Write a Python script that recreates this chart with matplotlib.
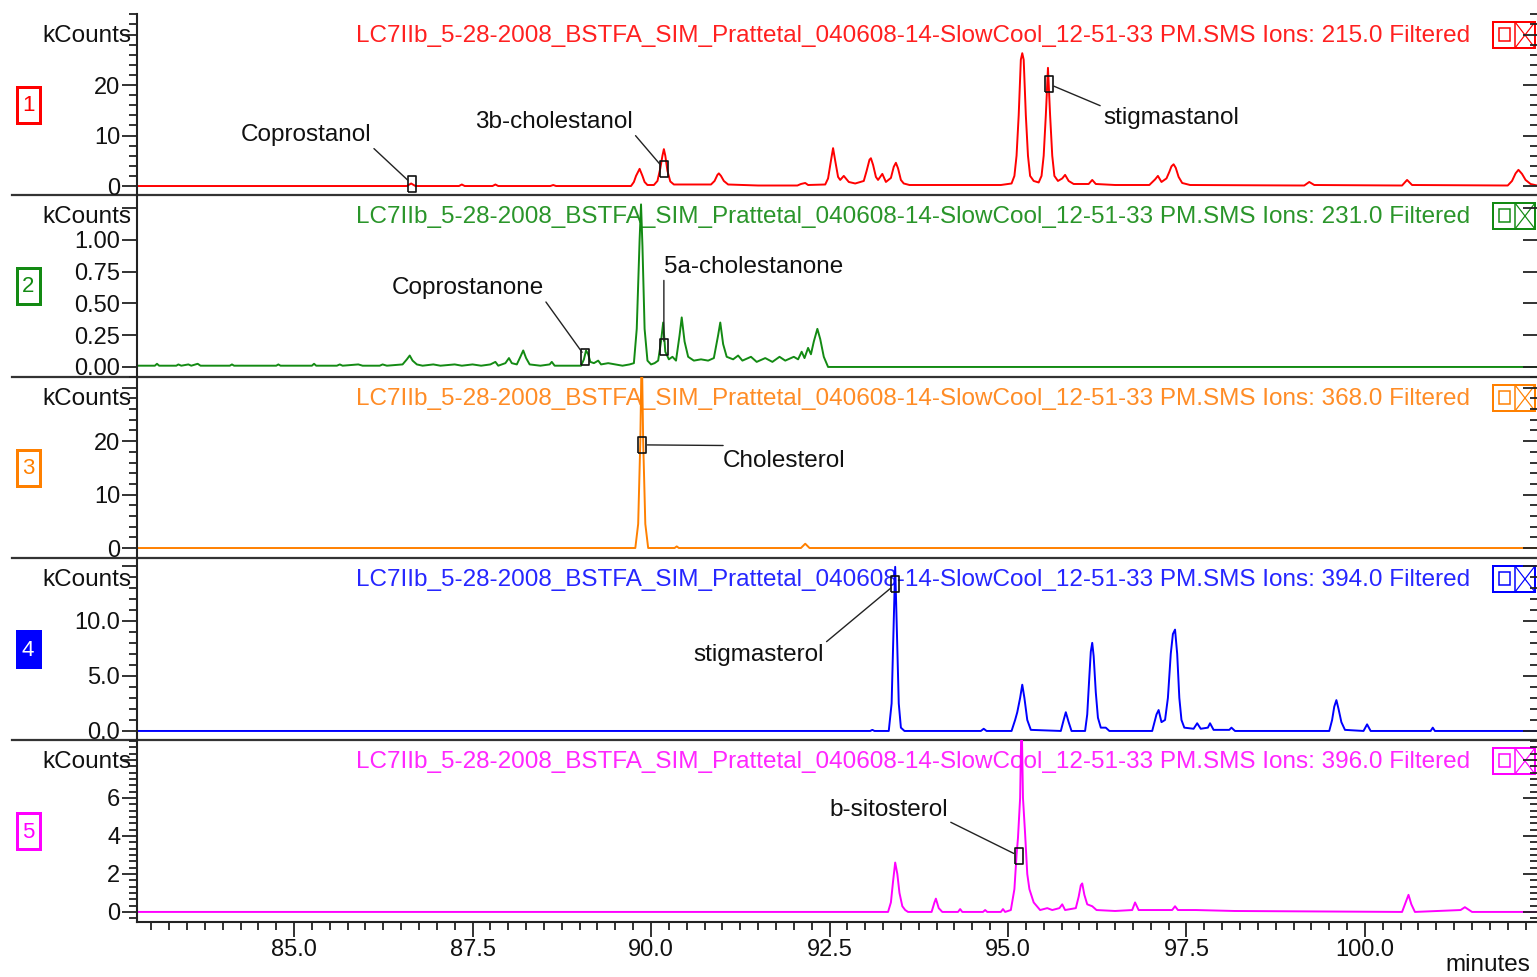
import numpy as np
import matplotlib
matplotlib.use("Agg")
import matplotlib.pyplot as plt
from matplotlib.patches import Rectangle
from matplotlib.ticker import MultipleLocator, NullLocator

plt.rcParams['font.family'] = ['Liberation Sans', 'DejaVu Sans']

W, H, DPI = 1537, 977, 100

RUN_NAME = "LC7IIb_5-28-2008_BSTFA_SIM_Prattetal_040608-14-SlowCool_12-51-33 PM.SMS"
ION_MASSES = ["215.0", "231.0", "368.0", "394.0", "396.0"]
TRACE_COLORS = ["#ff0000", "#138a13", "#ff8000", "#0000ff", "#ff00ff"]
TITLE_COLORS = ["#ff2020", "#2a952a", "#ff8c26", "#2626ff", "#ff26ff"]

T_START, T_END = 82.80, 102.41
X_TICKS = [85.0, 87.5, 90.0, 92.5, 95.0, 97.5, 100.0]
X_TICK_LABELS = ["85.0", "87.5", "90.0", "92.5", "95.0", "97.5", "100.0"]

# chromatogram vertices: retention time (min), intensity (kCounts)
trace_215 = np.array([
    [82.80, 0.0], [86.58, 0.0], [86.64, 0.5], [86.70, 0.0],
    [87.31, 0.0], [87.35, 0.3], [87.39, 0.0],
    [87.78, 0.0], [87.82, 0.3], [87.86, 0.0],
    [88.59, 0.0], [88.63, 0.2], [88.67, 0.0],
    [89.72, 0.0], [89.76, 0.8], [89.79, 2.0], [89.84, 3.4], [89.88, 2.0], [89.91, 0.8], [89.95, 0.2],
    [90.04, 0.2], [90.09, 1.0], [90.13, 3.5], [90.16, 6.0], [90.18, 7.3], [90.20, 6.0], [90.23, 3.0],
    [90.27, 0.9], [90.32, 0.3],
    [90.55, 0.3], [90.84, 0.3], [90.89, 1.0], [90.93, 2.2], [90.95, 2.5], [90.98, 2.0], [91.02, 1.0], [91.08, 0.3],
    [91.50, 0.1], [92.05, 0.1], [92.10, 0.4], [92.16, 0.6], [92.20, 0.2],
    [92.44, 0.3], [92.48, 1.5], [92.52, 5.0], [92.55, 7.5], [92.58, 5.0], [92.62, 1.8], [92.65, 1.2],
    [92.70, 2.0], [92.77, 0.8], [92.86, 0.5],
    [92.98, 1.0], [93.02, 3.0], [93.06, 5.2], [93.08, 5.5], [93.11, 4.2], [93.15, 1.8], [93.18, 1.2],
    [93.24, 2.4], [93.29, 0.8], [93.36, 1.6], [93.40, 3.8], [93.43, 4.6], [93.46, 3.5], [93.50, 1.2],
    [93.54, 0.5], [93.62, 0.2],
    [94.40, 0.2], [94.90, 0.2], [95.05, 0.5], [95.09, 2.0], [95.12, 6.0], [95.15, 14.0], [95.18, 25.0],
    [95.20, 26.3], [95.22, 25.0], [95.25, 14.0], [95.28, 6.0], [95.31, 2.0], [95.36, 1.0],
    [95.43, 0.7], [95.47, 2.0], [95.50, 6.0], [95.53, 14.0], [95.56, 23.4], [95.59, 14.0], [95.62, 6.0],
    [95.65, 2.0], [95.70, 1.0], [95.76, 1.5], [95.80, 2.2], [95.85, 1.0], [95.92, 0.4],
    [96.13, 0.4], [96.18, 1.2], [96.23, 0.4], [96.50, 0.2], [96.98, 0.2], [97.06, 1.3], [97.10, 2.0],
    [97.15, 0.8], [97.22, 1.5], [97.26, 2.8], [97.29, 3.9], [97.32, 4.3], [97.35, 3.6], [97.39, 1.8],
    [97.44, 0.6], [97.55, 0.2],
    [99.15, 0.1], [99.22, 0.8], [99.29, 0.2], [100.52, 0.1], [100.59, 1.2], [100.66, 0.2],
    [102.00, 0.1], [102.06, 1.0], [102.11, 2.5], [102.15, 3.2], [102.20, 2.4], [102.25, 1.2],
    [102.32, 0.4], [102.41, 0.1],
])

trace_231 = np.array([
    [82.80, 0.01], [83.05, 0.01], [83.08, 0.025], [83.11, 0.01], [83.35, 0.01], [83.38, 0.02], [83.42, 0.01],
    [83.52, 0.02], [83.56, 0.01], [83.65, 0.025], [83.69, 0.01], [84.10, 0.01], [84.13, 0.02], [84.16, 0.01],
    [84.75, 0.01], [84.78, 0.02], [84.81, 0.01], [85.25, 0.01], [85.28, 0.025], [85.31, 0.01],
    [85.60, 0.01], [85.64, 0.02], [85.68, 0.01], [85.90, 0.02], [85.96, 0.01], [86.20, 0.01], [86.24, 0.02],
    [86.30, 0.01], [86.52, 0.02], [86.58, 0.06], [86.62, 0.09], [86.66, 0.05], [86.72, 0.02], [86.80, 0.01],
    [86.95, 0.02], [87.05, 0.01], [87.25, 0.02], [87.35, 0.01], [87.50, 0.02], [87.62, 0.01], [87.75, 0.02],
    [87.82, 0.04], [87.86, 0.01], [87.96, 0.03], [88.01, 0.07], [88.05, 0.03], [88.12, 0.02], [88.17, 0.08],
    [88.21, 0.13], [88.25, 0.07], [88.30, 0.02], [88.45, 0.01], [88.58, 0.02], [88.61, 0.04], [88.65, 0.01],
    [89.02, 0.01], [89.06, 0.06], [89.09, 0.13], [89.12, 0.10], [89.15, 0.04], [89.20, 0.03], [89.26, 0.05],
    [89.30, 0.02], [89.40, 0.03], [89.50, 0.02], [89.60, 0.01], [89.70, 0.02], [89.76, 0.03],
    [89.80, 0.30], [89.84, 1.00], [89.86, 1.28], [89.88, 0.95], [89.91, 0.30], [89.95, 0.05],
    [90.00, 0.02], [90.05, 0.03], [90.10, 0.05], [90.14, 0.20], [90.17, 0.35], [90.20, 0.12], [90.25, 0.06],
    [90.30, 0.08], [90.35, 0.05], [90.40, 0.25], [90.43, 0.39], [90.47, 0.20], [90.52, 0.08], [90.60, 0.05],
    [90.70, 0.06], [90.80, 0.05], [90.88, 0.07], [90.94, 0.25], [90.97, 0.35], [91.01, 0.18], [91.06, 0.08],
    [91.15, 0.06], [91.22, 0.09], [91.28, 0.05], [91.40, 0.08], [91.48, 0.04], [91.60, 0.07], [91.70, 0.04],
    [91.80, 0.08], [91.88, 0.05], [92.00, 0.08], [92.06, 0.06], [92.11, 0.12], [92.15, 0.07], [92.20, 0.15],
    [92.24, 0.10], [92.28, 0.20], [92.33, 0.30], [92.37, 0.22], [92.42, 0.08], [92.48, 0.0], [102.41, 0.0],
])

trace_368 = np.array([
    [82.80, 0.0], [89.78, 0.0], [89.82, 4.5], [89.85, 20.0], [89.87, 38.0], [89.89, 20.0], [89.92, 4.5],
    [89.96, 0.0], [90.33, 0.0], [90.36, 0.3], [90.39, 0.0], [92.10, 0.0], [92.16, 0.8], [92.22, 0.0],
    [102.41, 0.0],
])

trace_394 = np.array([
    [82.80, 0.0], [93.07, 0.0], [93.10, 0.1], [93.13, 0.0], [93.33, 0.0], [93.37, 2.5], [93.40, 10.0],
    [93.42, 14.9], [93.44, 10.0], [93.47, 2.5], [93.50, 0.3], [93.55, 0.0],
    [94.62, 0.0], [94.66, 0.2], [94.70, 0.0],
    [95.05, 0.0], [95.10, 1.0], [95.13, 1.7], [95.17, 3.0], [95.20, 4.2], [95.23, 3.0], [95.27, 1.0], [95.32, 0.1],
    [95.74, 0.0], [95.78, 1.0], [95.81, 1.7], [95.85, 0.8], [95.89, 0.0],
    [96.08, 0.0], [96.11, 1.5], [96.14, 5.0], [96.16, 7.2], [96.18, 8.0], [96.20, 6.8], [96.23, 3.5],
    [96.26, 1.2], [96.30, 0.3], [96.37, 0.3], [96.42, 0.0],
    [97.02, 0.0], [97.08, 1.5], [97.11, 1.9], [97.15, 0.8], [97.20, 1.0], [97.24, 3.0], [97.28, 7.0],
    [97.31, 8.8], [97.34, 9.2], [97.37, 7.0], [97.40, 3.0], [97.43, 1.0], [97.47, 0.3],
    [97.60, 0.2], [97.65, 0.7], [97.70, 0.2], [97.80, 0.3], [97.83, 0.7], [97.88, 0.1], [98.10, 0.1],
    [98.13, 0.3], [98.18, 0.0],
    [99.50, 0.0], [99.54, 1.0], [99.57, 2.2], [99.60, 2.8], [99.63, 2.0], [99.67, 0.8], [99.72, 0.1],
    [99.98, 0.0], [100.03, 0.6], [100.08, 0.0], [100.92, 0.0], [100.95, 0.3], [100.98, 0.0], [102.41, 0.0],
])

trace_396 = np.array([
    [82.80, 0.0], [93.32, 0.0], [93.36, 0.5], [93.39, 1.6], [93.42, 2.6], [93.45, 2.0], [93.48, 1.0],
    [93.52, 0.3], [93.56, 0.1], [93.60, 0.0],
    [93.93, 0.0], [93.97, 0.5], [93.99, 0.7], [94.03, 0.2], [94.08, 0.0],
    [94.30, 0.0], [94.33, 0.15], [94.36, 0.0], [94.65, 0.0], [94.68, 0.1], [94.71, 0.0],
    [94.90, 0.0], [94.93, 0.15], [94.96, 0.0],
    [95.04, 0.1], [95.09, 1.2], [95.12, 3.0], [95.14, 3.9], [95.17, 6.0], [95.19, 10.5], [95.21, 6.0],
    [95.24, 4.1], [95.27, 2.0], [95.30, 1.2], [95.36, 0.5], [95.45, 0.1], [95.55, 0.2], [95.62, 0.1],
    [95.72, 0.2], [95.76, 0.4], [95.80, 0.1], [95.95, 0.2], [95.99, 0.8], [96.02, 1.4], [96.04, 1.5],
    [96.07, 0.9], [96.11, 0.4], [96.18, 0.3], [96.24, 0.1], [96.50, 0.05], [96.74, 0.1], [96.78, 0.5],
    [96.83, 0.1], [97.30, 0.1], [97.34, 0.3], [97.38, 0.1], [97.63, 0.1], [98.17, 0.05],
    [100.52, 0.0], [100.57, 0.5], [100.61, 0.9], [100.65, 0.4], [100.70, 0.0],
    [101.34, 0.1], [101.40, 0.25], [101.46, 0.1], [101.50, 0.0], [102.41, 0.0],
])

TRACES = [trace_215, trace_231, trace_368, trace_394, trace_396]

Y_LIMITS = [(-1.78, 34.06), (-0.079, 1.354), (-1.87, 32.0), (-0.82, 15.7), (-0.53, 9.05)]
Y_MAJOR = [[0, 10, 20, 30], [0, 0.25, 0.5, 0.75, 1.0, 1.25], [0, 10, 20, 30], [0, 5, 10, 15], [0, 2, 4, 6, 8]]
Y_LABELS = [["0", "10", "20", ""], ["0.00", "0.25", "0.50", "0.75", "1.00", ""],
            ["0", "10", "20", ""], ["0.0", "5.0", "10.0", ""], ["0", "2", "4", "6", ""]]
Y_MINOR = [2.0, None, 2.0, 1.0, 1.0 / 3.0]

# peak identifications: panel, name, (time, kCounts) of marker, label anchor, alignment, leader origin
PEAK_LABELS = [
    (0, "Coprostanol", 86.65, 0.4, 86.08, 10.1, "right", (1.0, 0.0)),
    (0, "3b-cholestanol", 90.18, 3.4, 89.75, 12.7, "right", (1.0, 0.0)),
    (0, "stigmastanol", 95.57, 20.2, 96.33, 13.5, "left", (0.0, 1.0)),
    (1, "Coprostanone", 89.08, 0.08, 88.50, 0.62, "right", (1.0, 0.0)),
    (1, "5a-cholestanone", 90.18, 0.16, 90.18, 0.79, "left", (0.0, 0.0)),
    (2, "Cholesterol", 89.87, 19.3, 91.01, 16.3, "left", (0.0, 1.2)),
    (3, "stigmasterol", 93.42, 13.3, 92.42, 6.9, "right", (1.0, 1.0)),
    (4, "b-sitosterol", 95.15, 2.95, 94.16, 5.37, "right", (1.0, 0.0)),
]

# layout in pixels
LEFT, RIGHT = 137, 1537
PANEL_TOPS = [14, 195, 377, 558, 740]
PANEL_BOTTOMS = [195, 377, 558, 740, 922]
FS = 17.5
TICK_FS = 17
INK = "#111111"

BOX_MARKER = [(-4, -7.5), (4, -7.5), (4, 7.5), (-4, 7.5), (-4, -7.5)]

fig = plt.figure(figsize=(W / DPI, H / DPI), dpi=DPI)
fig.patch.set_facecolor("white")

# pixel-space layer for headers, badges and separators
deco = fig.add_axes([0, 0, 1, 1], zorder=0)
deco.set_xlim(0, W)
deco.set_ylim(H, 0)
deco.axis("off")

px = 0.72  # points per pixel at 100 dpi

for i in range(5):
    top, bot = PANEL_TOPS[i], PANEL_BOTTOMS[i]
    col = TRACE_COLORS[i]

    ax = fig.add_axes([LEFT / W, 1 - bot / H, (RIGHT - LEFT) / W, (bot - top) / H], zorder=1)
    ax.patch.set_alpha(0)
    data = TRACES[i]
    ax.plot(data[:, 0], data[:, 1], color=col, lw=1.4)
    ax.set_xlim(T_START, T_END)
    ax.set_ylim(*Y_LIMITS[i])

    for side in ("top", "right", "bottom"):
        ax.spines[side].set_visible(False)
    ax.spines["left"].set_linewidth(1.5)
    ax.spines["left"].set_color("#222222")

    ax.set_yticks(Y_MAJOR[i], Y_LABELS[i])
    if Y_MINOR[i]:
        ax.yaxis.set_minor_locator(MultipleLocator(Y_MINOR[i]))
    else:
        ax.yaxis.set_minor_locator(NullLocator())
    ax.tick_params(axis="y", which="major", direction="out", length=11, width=1.3,
                   labelsize=TICK_FS, pad=1, colors="#222222", labelcolor=INK)
    ax.tick_params(axis="y", which="minor", direction="out", length=6, width=1.3, colors="#222222")

    if i < 4:
        ax.set_xticks([])
        ax.xaxis.set_minor_locator(NullLocator())
    else:
        ax.spines["bottom"].set_visible(True)
        ax.spines["bottom"].set_linewidth(1.5)
        ax.spines["bottom"].set_color("#222222")
        ax.set_xticks(X_TICKS, X_TICK_LABELS)
        ax.xaxis.set_minor_locator(MultipleLocator(0.25))
        ax.tick_params(axis="x", which="major", direction="out", length=11, width=1.3,
                       labelsize=TICK_FS, pad=1.5, colors="#222222", labelcolor=INK)
        ax.tick_params(axis="x", which="minor", direction="out", length=6, width=1.3, colors="#222222")

    # inward ticks on the right edge
    rax = ax.twinx()
    rax.set_ylim(*Y_LIMITS[i])
    rax.set_yticks(Y_MAJOR[i])
    rax.set_yticklabels([])
    if Y_MINOR[i]:
        rax.yaxis.set_minor_locator(MultipleLocator(Y_MINOR[i]))
    else:
        rax.yaxis.set_minor_locator(NullLocator())
    rax.tick_params(axis="y", which="major", direction="in", length=10, width=1.3, colors="#222222")
    rax.tick_params(axis="y", which="minor", direction="in", length=5, width=1.3, colors="#222222")
    for s in rax.spines.values():
        s.set_visible(False)

    # identified peaks
    for (p, name, t, v, tx, ty, ha, rel) in PEAK_LABELS:
        if p != i:
            continue
        ax.plot([t], [v], marker=BOX_MARKER, ms=11, mfc="none", mec=INK, mew=1.2,
                clip_on=False, zorder=5)
        ax.annotate(name, xy=(t, v), xytext=(tx, ty), ha=ha, va="center", fontsize=FS,
                    color=INK, annotation_clip=False, zorder=6,
                    arrowprops=dict(arrowstyle="-", color="#222222", lw=1.0,
                                    shrinkA=0, shrinkB=4, relpos=rel))

    # header text
    deco.text(1470, top + 22, f"{RUN_NAME} Ions: {ION_MASSES[i]} Filtered", ha="right", va="center",
              fontsize=FS, color=TITLE_COLORS[i])
    deco.text(131, top + 22, "kCounts", ha="right", va="center", fontsize=FS, color=INK)

    # numbered badge
    cy = (top + bot) / 2
    filled = (i == 3)
    deco.add_patch(Rectangle((16.5, cy - 18), 23, 36, lw=3 * px, edgecolor=col,
                             facecolor=col if filled else "white"))
    deco.text(28, cy + 1, str(i + 1), ha="center", va="center", fontsize=16,
              color="white" if filled else col)

    # view controls
    deco.add_patch(Rectangle((1493, top + 8), 42, 26, lw=2 * px, edgecolor=col, facecolor="none"))
    deco.plot([1515, 1515], [top + 8, top + 34], color=col, lw=1.5 * px)
    deco.add_patch(Rectangle((1499, top + 14), 11, 13, lw=1.5 * px, edgecolor=col, facecolor="none"))
    deco.plot([1515, 1535], [top + 8, top + 34], color=col, lw=1.2 * px)
    deco.plot([1515, 1535], [top + 34, top + 8], color=col, lw=1.2 * px)

# panel separators
for y in PANEL_BOTTOMS[:-1]:
    deco.plot([12, W], [y, y], color="#333333", lw=1.6)

deco.text(1530, 965, "minutes", ha="right", va="center", fontsize=FS, color=INK)

fig.savefig("out.png", dpi=DPI, facecolor="white")
